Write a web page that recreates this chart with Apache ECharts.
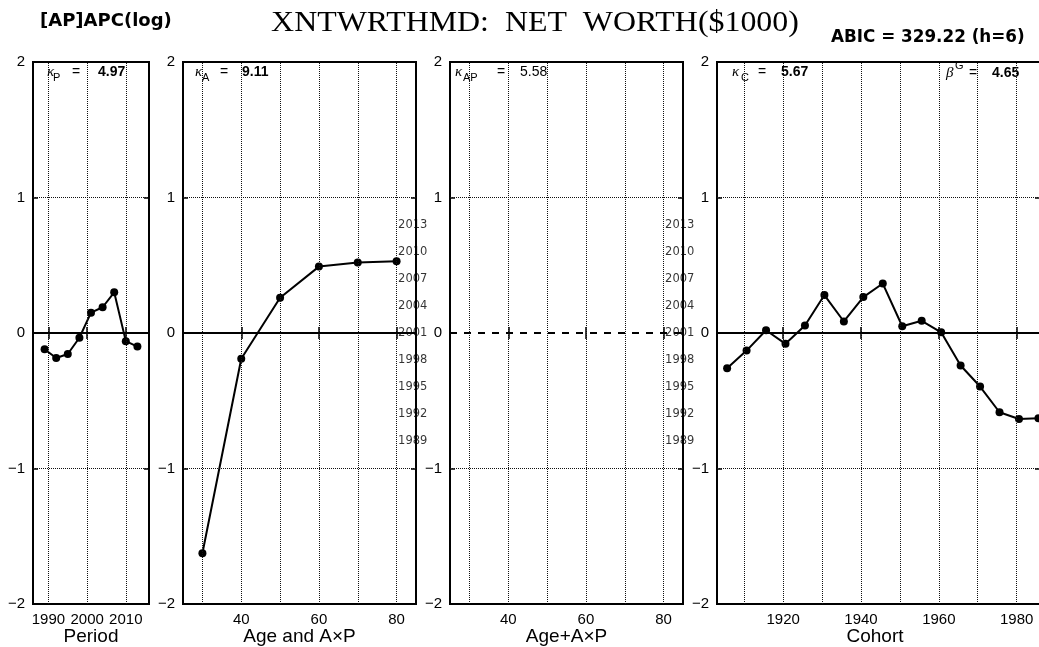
<!DOCTYPE html>
<html>
<head>
<meta charset="utf-8">
<script src="https://cdn.jsdelivr.net/npm/echarts@6/dist/echarts.min.js"></script>
<style>html,body{margin:0;background:#fff}#main{width:1039px;height:647px}</style>
</head>
<body>
<div id="main"></div>
<script>
// values
var periods = [1989, 1992, 1995, 1998, 2001, 2004, 2007, 2010, 2013];
var periodEffect = [-0.12, -0.185, -0.155, -0.035, 0.15, 0.19, 0.30, -0.06, -0.10];
var ages = [30, 40, 50, 60, 70, 80];
var ageEffect = [-1.625, -0.19, 0.26, 0.49, 0.52, 0.53];
var cohorts = [1905.6, 1910.6, 1915.6, 1920.6, 1925.6, 1930.6, 1935.6, 1940.6, 1945.6,
               1950.6, 1955.6, 1960.6, 1965.6, 1970.6, 1975.6, 1980.6, 1985.6];
var cohortEffect = [-0.26, -0.13, 0.02, -0.08, 0.055, 0.28, 0.085, 0.265, 0.365,
                    0.05, 0.09, 0.005, -0.24, -0.395, -0.585, -0.635, -0.63];
// period labels at the right of the age panels
var periodLabelY = [0.8, 0.6, 0.4, 0.2, 0, -0.2, -0.4, -0.6, -0.8];

var periodTicks = [1990, 2000, 2010];
var ageTicks = [40, 60, 80];
var cohortTicks = [1920, 1940, 1960, 1980];
var periodGrid = [1990, 2000, 2010];
var ageGrid = [30, 40, 50, 60, 70, 80];
var cohortGrid = [1910, 1920, 1930, 1940, 1950, 1960, 1970, 1980];

var chartDom = document.getElementById('main');
var myChart = echarts.init(chartDom);
var option;

var panels = [
  {left: 33, width: 116, min: 1986, max: 2016, ticks: periodTicks, lines: periodGrid, name: 'Period'},
  {left: 183, width: 233, min: 25, max: 85, ticks: ageTicks, lines: ageGrid, name: 'Age and A\u00d7P'},
  {left: 450, width: 233, min: 25, max: 85, ticks: ageTicks, lines: ageGrid, name: 'Age+A\u00d7P'},
  {left: 717, width: 323, min: 1903, max: 1986, ticks: cohortTicks, lines: cohortGrid, name: 'Cohort'}
];

var dotted = {color: '#111', width: 1, type: [1, 1]};

function minus(v) {
  return v < 0 ? '\u2212' + (-v) : '' + v;
}

function plain(v) {
  return '' + v;
}

function zip(xs, ys) {
  return xs.map(function (x, i) { return [x, ys[i]]; });
}

function gridLines(xs, zeroType) {
  var d = xs.map(function (v) { return {xAxis: v, lineStyle: dotted}; });
  d.push({yAxis: 1, lineStyle: dotted});
  d.push({yAxis: -1, lineStyle: dotted});
  d.push({yAxis: 0, lineStyle: {color: '#000', width: 2, type: zeroType}});
  return {silent: true, symbol: ['none', 'none'], label: {show: false}, animation: false, data: d};
}

function txt(x, y, text, font, align) {
  return {type: 'text', x: x, y: y, silent: true,
    style: {text: text, font: font, fill: '#000', textAlign: align || 'left', textVerticalAlign: 'middle'}};
}

var grids = [], xAxes = [], yAxes = [], names = [];
panels.forEach(function (p, i) {
  grids.push({left: p.left, top: 62, width: p.width, height: 542, show: true,
    outerBoundsMode: 'none', containLabel: false,
    borderColor: '#000', borderWidth: 2, backgroundColor: 'transparent'});
  xAxes.push({type: 'value', gridIndex: i, min: p.min, max: p.max, position: 'bottom',
    axisLine: {show: false}, splitLine: {show: false},
    axisTick: {inside: true, length: 6, lineStyle: {color: '#000', width: 1.5}, customValues: p.ticks},
    axisLabel: {customValues: p.ticks, formatter: plain, margin: 8, color: '#000',
      fontFamily: 'Liberation Sans', fontSize: 15}});
  yAxes.push({type: 'value', gridIndex: i, min: -2, max: 2, interval: 1, position: 'left',
    axisLine: {show: false}, splitLine: {show: false},
    axisTick: {inside: true, length: 5, lineStyle: {color: '#000', width: 1.5}},
    axisLabel: {margin: 8, formatter: minus, color: '#000', fontFamily: 'Liberation Sans', fontSize: 15}});
  names.push(txt(p.left + Math.min(p.width, 316) / 2, 637, p.name, '19px "Liberation Sans"', 'center'));
});
panels.forEach(function (p, i) {
  xAxes.push({type: 'value', gridIndex: i, min: p.min, max: p.max, position: 'top',
    axisLine: {show: false}, splitLine: {show: false}, axisLabel: {show: false},
    axisTick: {inside: true, length: 6, lineStyle: {color: '#000', width: 1.5}, customValues: p.ticks}});
  yAxes.push({type: 'value', gridIndex: i, min: -2, max: 2, interval: 1, position: 'right',
    axisLine: {show: false}, splitLine: {show: false}, axisLabel: {show: false},
    axisTick: {inside: true, length: 5, lineStyle: {color: '#000', width: 1.5}}});
});

var lineStyle = {color: '#000', width: 2};
var dot = {color: '#000'};

function effectSeries(idx, data, lines) {
  return {type: 'line', xAxisIndex: idx, yAxisIndex: idx, data: data,
    symbol: 'circle', symbolSize: 8, lineStyle: lineStyle, itemStyle: dot,
    markLine: gridLines(lines, 'solid'), z: 3};
}

function periodLabels(idx) {
  return {type: 'scatter', xAxisIndex: idx, yAxisIndex: idx,
    data: periodLabelY.map(function (y, i) { return {value: [80, y], name: '' + periods[periods.length - 1 - i]}; }),
    symbolSize: 1, itemStyle: {color: 'transparent'}, silent: true, z: 4,
    label: {show: true, position: 'right', distance: 1, formatter: '{b}',
      color: '#000', fontFamily: 'DejaVu Sans', fontSize: 11.5}};
}

var kFont = 'italic 15px "Liberation Serif"';
var subFont = '11px "Liberation Sans"';
var eqFont = '14px "Liberation Sans"';
var valFont = 'bold 14px "Liberation Sans"';

var graphics = [
  {type: 'text', x: 535, y: 23, scaleX: 1.1, originX: 0, originY: 0, silent: true,
    style: {text: 'XNTWRTHMD:  NET  WORTH($1000)', font: '29px "Liberation Serif"', fill: '#000',
      textAlign: 'center', textVerticalAlign: 'middle'}},
  txt(40, 21, '[AP]APC(log)', 'bold 18px "DejaVu Sans"'),
  txt(831, 38, 'ABIC = 329.22 (h=6)', 'bold 16.8px "DejaVu Sans"'),
  txt(47, 72, '\u03ba', kFont), txt(53, 78, 'P', subFont), txt(72, 72, '=', eqFont), txt(98, 72, '4.97', valFont),
  txt(195, 72, '\u03ba', kFont), txt(202, 78, 'A', subFont), txt(220, 72, '=', eqFont), txt(242, 72, '9.11', valFont),
  txt(455, 72, '\u03ba', kFont), txt(463, 78, 'AP', subFont), txt(497, 72, '=', eqFont), txt(520, 72, '5.58', eqFont),
  txt(732, 72, '\u03ba', kFont), txt(741, 78, 'C', subFont), txt(758, 72, '=', eqFont), txt(781, 72, '5.67', valFont),
  txt(946, 73, '\u03b2', kFont), txt(955, 66, 'G', subFont), txt(969, 73, '=', eqFont), txt(992, 73, '4.65', valFont)
].concat(names);

option = {
  animation: false,
  backgroundColor: '#fff',
  grid: grids,
  xAxis: xAxes,
  yAxis: yAxes,
  graphic: graphics,
  series: [
    effectSeries(0, zip(periods, periodEffect), periodGrid),
    effectSeries(1, zip(ages, ageEffect), ageGrid),
    periodLabels(1),
    {type: 'line', xAxisIndex: 2, yAxisIndex: 2, data: [], markLine: gridLines(ageGrid, [7, 7])},
    periodLabels(2),
    effectSeries(3, zip(cohorts, cohortEffect), cohortGrid)
  ]
};

option && myChart.setOption(option);
</script>
</body>
</html>
